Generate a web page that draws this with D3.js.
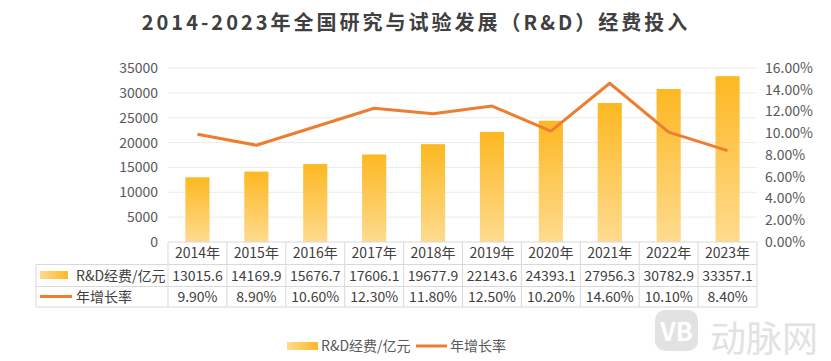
<!DOCTYPE html>
<html>
<head>
<meta charset="utf-8">
<script src="https://cdn.jsdelivr.net/npm/d3@7"></script>
<style>
  body{margin:0;background:#fff;}
  svg text{font-family:"Noto Sans CJK SC","Noto Sans",sans-serif;}
</style>
</head>
<body>
<div id="chart"></div>
<script>
const years=["2014年","2015年","2016年","2017年","2018年","2019年","2020年","2021年","2022年","2023年"];
const spending=[13015.6,14169.9,15676.7,17606.1,19677.9,22143.6,24393.1,27956.3,30782.9,33357.1];
const growth=[9.9,8.9,10.6,12.3,11.8,12.5,10.2,14.6,10.1,8.4];
const leftTicks=[0,5000,10000,15000,20000,25000,30000,35000];
const rightTicks=[0,2,4,6,8,10,12,14,16];
const barName="R&D经费/亿元";
const lineName="年增长率";

const w=831, h=361;
const plotL=168, plotR=757, plotT=68, plotB=242;
const tableLeft=36, rowY=[242,264.5,286.5,307];

const svg=d3.select("#chart").append("svg").attr("width",w).attr("height",h);

const defs=svg.append("defs");
const grad=defs.append("linearGradient").attr("id","barGrad")
  .attr("x1",0).attr("y1",0).attr("x2",0).attr("y2",1);
grad.append("stop").attr("offset","0%").attr("stop-color","#fdb822");
grad.append("stop").attr("offset","100%").attr("stop-color","#fedb8f");
const gradH=defs.append("linearGradient").attr("id","legGrad")
  .attr("x1",0).attr("y1",0).attr("x2",1).attr("y2",0);
gradH.append("stop").attr("offset","0%").attr("stop-color","#fedb8f");
gradH.append("stop").attr("offset","100%").attr("stop-color","#fdb822");

const x=d3.scaleBand().domain(years).range([plotL,plotR]).padding(0);
const yL=d3.scaleLinear().domain([0,35000]).range([plotB,plotT]);
const yR=d3.scaleLinear().domain([0,16]).range([plotB,plotT]);

// title
svg.append("text").text("2014-2023年全国研究与试验发展（R&D）经费投入")
  .attr("x",416).attr("y",30).attr("text-anchor","middle")
  .style("font-size","20px").style("font-weight","bold").style("letter-spacing","3px")
  .attr("fill","#404040");

// gridlines
svg.append("g").selectAll("line").data(leftTicks.slice(1)).join("line")
  .attr("x1",plotL).attr("x2",plotR)
  .attr("y1",d=>yL(d)).attr("y2",d=>yL(d))
  .attr("stroke","#ebebeb").attr("stroke-width",1);

// left axis
const axL=svg.append("g").attr("transform",`translate(${plotL-10},0)`)
  .call(d3.axisLeft(yL).tickValues(leftTicks).tickSize(0).tickPadding(0).tickFormat(d3.format("d")));
axL.select(".domain").remove();
axL.selectAll("text").style("font-size","14px").attr("fill","#595959")
  .style("font-family","\"Noto Sans CJK SC\",sans-serif");

// right axis
const axR=svg.append("g").attr("transform",`translate(${plotR+8},0)`)
  .call(d3.axisRight(yR).tickValues(rightTicks).tickSize(0).tickPadding(0)
    .tickFormat(d=>d.toFixed(2)+"%"));
axR.select(".domain").remove();
axR.selectAll("text").style("font-size","14px").attr("fill","#595959")
  .style("font-family","\"Noto Sans CJK SC\",sans-serif");

// bars
const bw=x.bandwidth()*0.41;
svg.append("g").selectAll("rect").data(spending).join("rect")
  .attr("x",(d,i)=>x(years[i])+x.bandwidth()/2-bw/2)
  .attr("y",d=>yL(d))
  .attr("width",bw)
  .attr("height",d=>plotB-yL(d))
  .attr("fill","url(#barGrad)");

// line
const line=d3.line().x((d,i)=>x(years[i])+x.bandwidth()/2).y(d=>yR(d));
svg.append("path").datum(growth).attr("d",line)
  .attr("fill","none").attr("stroke","#ed7d31").attr("stroke-width",3)
  .attr("stroke-linejoin","round");

// data table
const tbl=svg.append("g");
const gridC="#d9d9d9";
tbl.append("line").attr("x1",plotL).attr("x2",plotR).attr("y1",rowY[0]).attr("y2",rowY[0]).attr("stroke",gridC);
[1,2,3].forEach(r=>{
  tbl.append("line").attr("x1",tableLeft).attr("x2",plotR).attr("y1",rowY[r]).attr("y2",rowY[r]).attr("stroke",gridC);
});
tbl.append("line").attr("x1",tableLeft).attr("x2",tableLeft).attr("y1",rowY[1]).attr("y2",rowY[3]).attr("stroke",gridC);
years.forEach(yr=>{
  tbl.append("line").attr("x1",x(yr)).attr("x2",x(yr)).attr("y1",rowY[0]).attr("y2",rowY[3]).attr("stroke",gridC);
});
tbl.append("line").attr("x1",plotR).attr("x2",plotR).attr("y1",rowY[0]).attr("y2",rowY[3]).attr("stroke",gridC);

const cellText=(vals,r)=>{
  tbl.append("g").selectAll("text").data(vals).join("text")
    .text(d=>d)
    .attr("x",(d,i)=>x(years[i])+x.bandwidth()/2)
    .attr("y",(rowY[r]+rowY[r+1])/2+5)
    .attr("text-anchor","middle")
    .style("font-size","14px").attr("fill","#404040");
};
cellText(years,0);
cellText(spending.map(d=>d.toFixed(1)),1);
cellText(growth.map(d=>d.toFixed(2)+"%"),2);

// row legend keys
tbl.append("rect").attr("x",40).attr("y",271).attr("width",28).attr("height",8).attr("fill","url(#legGrad)");
tbl.append("text").text(barName).attr("x",76).attr("y",280.5)
  .style("font-size","14px").attr("fill","#404040");
tbl.append("line").attr("x1",40).attr("x2",72).attr("y1",296.5).attr("y2",296.5)
  .attr("stroke","#ed7d31").attr("stroke-width",3);
tbl.append("text").text(lineName).attr("x",76).attr("y",301.5)
  .style("font-size","14px").attr("fill","#404040");

// bottom legend
const leg=svg.append("g");
leg.append("rect").attr("x",287).attr("y",342).attr("width",31).attr("height",8).attr("fill","url(#legGrad)");
leg.append("text").text(barName).attr("x",321).attr("y",351)
  .style("font-size","14px").attr("fill","#595959");
leg.append("line").attr("x1",416).attr("x2",447).attr("y1",346).attr("y2",346)
  .attr("stroke","#ed7d31").attr("stroke-width",3);
leg.append("text").text(lineName).attr("x",450).attr("y",351)
  .style("font-size","14px").attr("fill","#595959");

// watermark
const wm=svg.append("g");
wm.append("rect").attr("x",655).attr("y",310).attr("width",43).attr("height",41).attr("rx",10)
  .attr("fill","#e2e2e2");
wm.append("text").text("VB").attr("x",676.5).attr("y",341).attr("text-anchor","middle")
  .style("font-size","25px").style("font-weight","bold").attr("fill","#ffffff");
wm.append("text").text("动脉网").attr("x",710).attr("y",352)
  .style("font-size","36px").attr("fill","#e2e2e2");
</script>
</body>
</html>
